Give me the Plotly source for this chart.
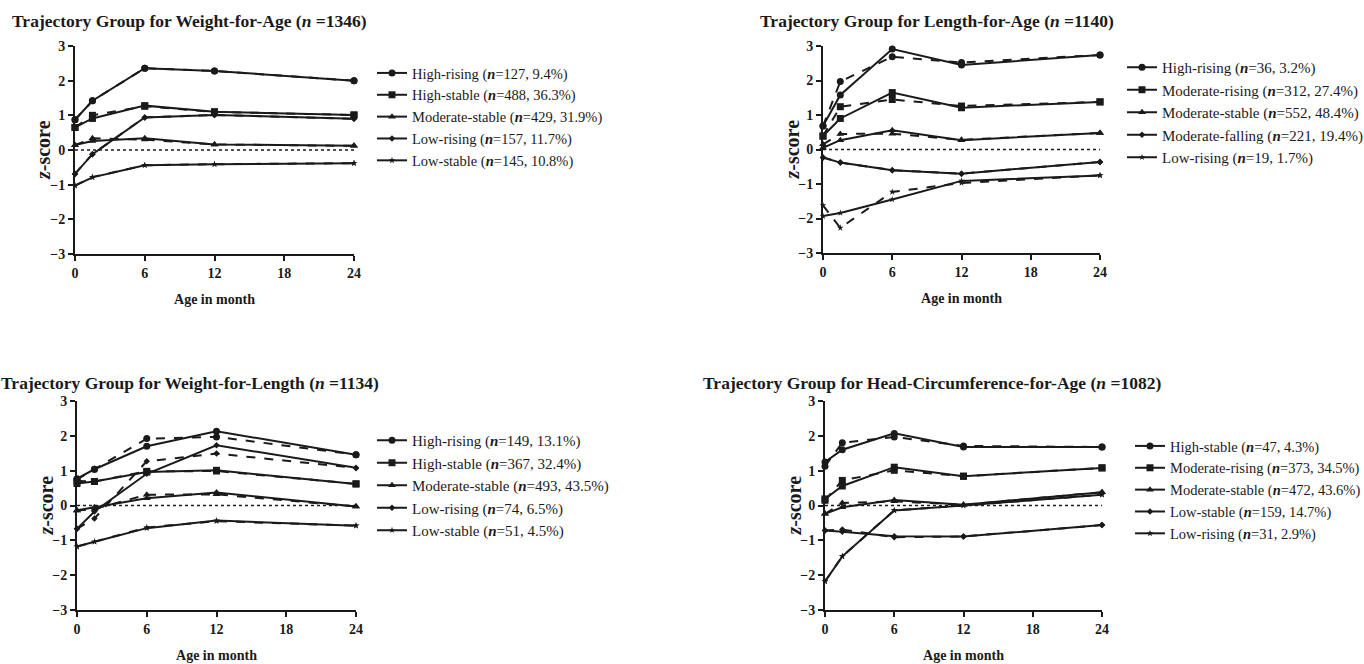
import plotly.graph_objects as go

W, H = 1364, 664
months = [0, 1.5, 6, 12, 24]
x_ticks = [0, 6, 12, 18, 24]
y_ticks = [-3, -2, -1, 0, 1, 2, 3]

# ---- Panel 1: Weight-for-Age ----
wfa_title = "Weight-for-Age"
wfa_total = 1346
wfa_names = ["High-rising", "High-stable", "Moderate-stable", "Low-rising", "Low-stable"]
wfa_n = [127, 488, 429, 157, 145]
wfa_pct = [9.4, 36.3, 31.9, 11.7, 10.8]
wfa_est = [[0.87, 1.42, 2.36, 2.28, 2.00],
           [0.65, 0.91, 1.28, 1.10, 1.01],
           [0.14, 0.26, 0.34, 0.16, 0.12],
           [-0.69, -0.12, 0.94, 1.01, 0.90],
           [-1.03, -0.79, -0.44, -0.41, -0.38]]
wfa_obs = [[0.87, 1.42, 2.36, 2.28, 2.00],
           [0.65, 1.00, 1.26, 1.10, 1.01],
           [0.14, 0.34, 0.30, 0.16, 0.12],
           [-0.69, -0.12, 0.94, 1.01, 0.90],
           [-1.03, -0.78, -0.44, -0.41, -0.38]]

# ---- Panel 2: Length-for-Age ----
lfa_title = "Length-for-Age"
lfa_total = 1140
lfa_names = ["High-rising", "Moderate-rising", "Moderate-stable", "Moderate-falling", "Low-rising"]
lfa_n = [36, 312, 552, 221, 19]
lfa_pct = [3.2, 27.4, 48.4, 19.4, 1.7]
lfa_est = [[0.68, 1.58, 2.91, 2.45, 2.74],
           [0.39, 0.90, 1.65, 1.21, 1.38],
           [0.05, 0.27, 0.56, 0.27, 0.48],
           [-0.23, -0.38, -0.60, -0.70, -0.36],
           [-1.93, -1.84, -1.45, -0.91, -0.75]]
lfa_obs = [[0.68, 1.97, 2.69, 2.52, 2.74],
           [0.39, 1.24, 1.45, 1.26, 1.38],
           [0.15, 0.45, 0.46, 0.28, 0.48],
           [-0.23, -0.38, -0.60, -0.70, -0.36],
           [-1.62, -2.27, -1.23, -0.97, -0.75]]

# ---- Panel 3: Weight-for-Length ----
wfl_title = "Weight-for-Length"
wfl_total = 1134
wfl_names = ["High-rising", "High-stable", "Moderate-stable", "Low-rising", "Low-stable"]
wfl_n = [149, 367, 493, 74, 51]
wfl_pct = [13.1, 32.4, 43.5, 6.5, 4.5]
wfl_est = [[0.77, 1.04, 1.70, 2.13, 1.46],
           [0.63, 0.69, 0.96, 1.01, 0.62],
           [-0.14, -0.05, 0.21, 0.37, -0.03],
           [-0.67, -0.17, 0.91, 1.73, 1.08],
           [-1.18, -1.04, -0.65, -0.43, -0.58]]
wfl_obs = [[0.75, 1.04, 1.92, 1.97, 1.46],
           [0.70, 0.69, 0.98, 0.99, 0.62],
           [-0.14, -0.10, 0.31, 0.32, -0.03],
           [-0.67, -0.37, 1.27, 1.49, 1.08],
           [-1.18, -1.04, -0.63, -0.45, -0.58]]

# ---- Panel 4: Head-Circumference-for-Age ----
hca_title = "Head-Circumference-for-Age"
hca_total = 1082
hca_names = ["High-stable", "Moderate-rising", "Moderate-stable", "Low-stable", "Low-rising"]
hca_n = [47, 373, 472, 159, 31]
hca_pct = [4.3, 34.5, 43.6, 14.7, 2.9]
hca_est = [[1.25, 1.60, 2.07, 1.68, 1.68],
           [0.19, 0.56, 1.10, 0.84, 1.08],
           [-0.24, -0.05, 0.16, 0.02, 0.38],
           [-0.72, -0.75, -0.88, -0.89, -0.56],
           [-2.18, -1.46, -0.14, 0.00, 0.31]]
hca_obs = [[1.13, 1.80, 1.97, 1.71, 1.68],
           [0.15, 0.72, 1.01, 0.84, 1.08],
           [-0.24, 0.07, 0.12, 0.02, 0.38],
           [-0.72, -0.69, -0.91, -0.89, -0.56],
           [-2.18, -1.46, -0.14, 0.00, 0.31]]

symbols = ["circle", "square", "triangle-up", "diamond", "star"]
msizes = [7, 7, 7, 5, 5]
INK = "#1a1a1a"
SERIF = "Liberation Serif, Times New Roman, serif"

# pixel boxes of the four plot areas: (left, right, top, bottom)
boxes = [(75, 354, 46, 254), (823, 1100, 46, 253), (77, 356, 401, 610), (825, 1102, 401, 610)]
legend_pos = [(372, 57), (1122, 51), (372, 424), (1130, 430)]
legend_fs = [14.5, 15, 15, 14.5]
title_pos = [(10, 21), (758, 21), (-1, 383), (701, 383)]

panels = [
    (wfa_title, wfa_total, wfa_names, wfa_n, wfa_pct, wfa_est, wfa_obs),
    (lfa_title, lfa_total, lfa_names, lfa_n, lfa_pct, lfa_est, lfa_obs),
    (wfl_title, wfl_total, wfl_names, wfl_n, wfl_pct, wfl_est, wfl_obs),
    (hca_title, hca_total, hca_names, hca_n, hca_pct, hca_est, hca_obs),
]

fig = go.Figure()
layout = dict(
    width=W, height=H, margin=dict(l=0, r=0, t=0, b=0, autoexpand=False),
    paper_bgcolor="white", plot_bgcolor="white",
    font=dict(family=SERIF, color=INK),
    annotations=[], shapes=[],
)

for i, (ttl, tot, names, ns, pcts, est, obs) in enumerate(panels):
    k = "" if i == 0 else str(i + 1)
    xa, ya = "x" + k, "y" + k
    lg = "legend" + k
    left, right, top, bottom = boxes[i]
    for j in range(len(names)):
        label = f"{names[j]} (<b><i>n</i></b>={ns[j]}, {pcts[j]}%)"
        fig.add_trace(go.Scatter(
            x=months, y=obs[j], mode="lines+markers", xaxis=xa, yaxis=ya,
            line=dict(color=INK, width=2, dash="dash"),
            marker=dict(symbol=symbols[j], size=msizes[j], color=INK),
            showlegend=False, cliponaxis=False, hoverinfo="skip",
        ))
        fig.add_trace(go.Scatter(
            x=months, y=est[j], mode="lines+markers", xaxis=xa, yaxis=ya,
            name=label, legend=lg,
            line=dict(color=INK, width=2),
            marker=dict(symbol=symbols[j], size=msizes[j], color=INK),
            cliponaxis=False,
        ))
    axis_common = dict(
        showline=True, linecolor=INK, linewidth=2, ticks="outside", ticklen=5,
        tickwidth=2, tickcolor=INK, showgrid=False, zeroline=False,
        tickfont=dict(family=SERIF, size=14, color=INK, weight="bold"),
    )
    layout["xaxis" + k] = dict(
        axis_common, range=[0, 24], tickvals=x_ticks, anchor=ya,
        domain=[left / W, right / W],
        title=dict(text="Age in month", font=dict(family=SERIF, size=14, weight="bold"), standoff=14),
    )
    layout["yaxis" + k] = dict(
        axis_common, range=[-3, 3], tickvals=y_ticks, anchor=xa,
        domain=[1 - bottom / H, 1 - top / H],
    )
    # y-axis title placed beside the axis
    layout["annotations"].append(dict(
        text="<b><i>z</i>-score</b>", textangle=-90,
        x=(left - 32) / W, y=1 - (top + bottom) / 2 / H, xref="paper", yref="paper",
        xanchor="center", yanchor="middle", showarrow=False,
        font=dict(family=SERIF, size=20, color=INK),
    ))
    lx, ly = legend_pos[i]
    layout[lg] = dict(
        x=lx / W, y=1 - ly / H, xanchor="left", yanchor="top",
        bgcolor="rgba(0,0,0,0)", font=dict(family=SERIF, size=legend_fs[i], color=INK),
        itemclick=False, tracegroupgap=0,
    )
    tx, ty = title_pos[i]
    layout["annotations"].append(dict(
        text=f"<b>Trajectory Group for {ttl} (<i>n</i> ={tot})</b>",
        x=tx / W, y=1 - ty / H, xref="paper", yref="paper",
        xanchor="left", yanchor="middle", showarrow=False,
        font=dict(family=SERIF, size=17.5, color=INK),
    ))
    layout["shapes"].append(dict(
        type="line", xref=xa, yref=ya, x0=0, x1=24, y0=0, y1=0,
        line=dict(color=INK, width=1.5, dash="dot"), layer="below",
    ))

fig.update_layout(**layout)
fig.write_html("out.html")
